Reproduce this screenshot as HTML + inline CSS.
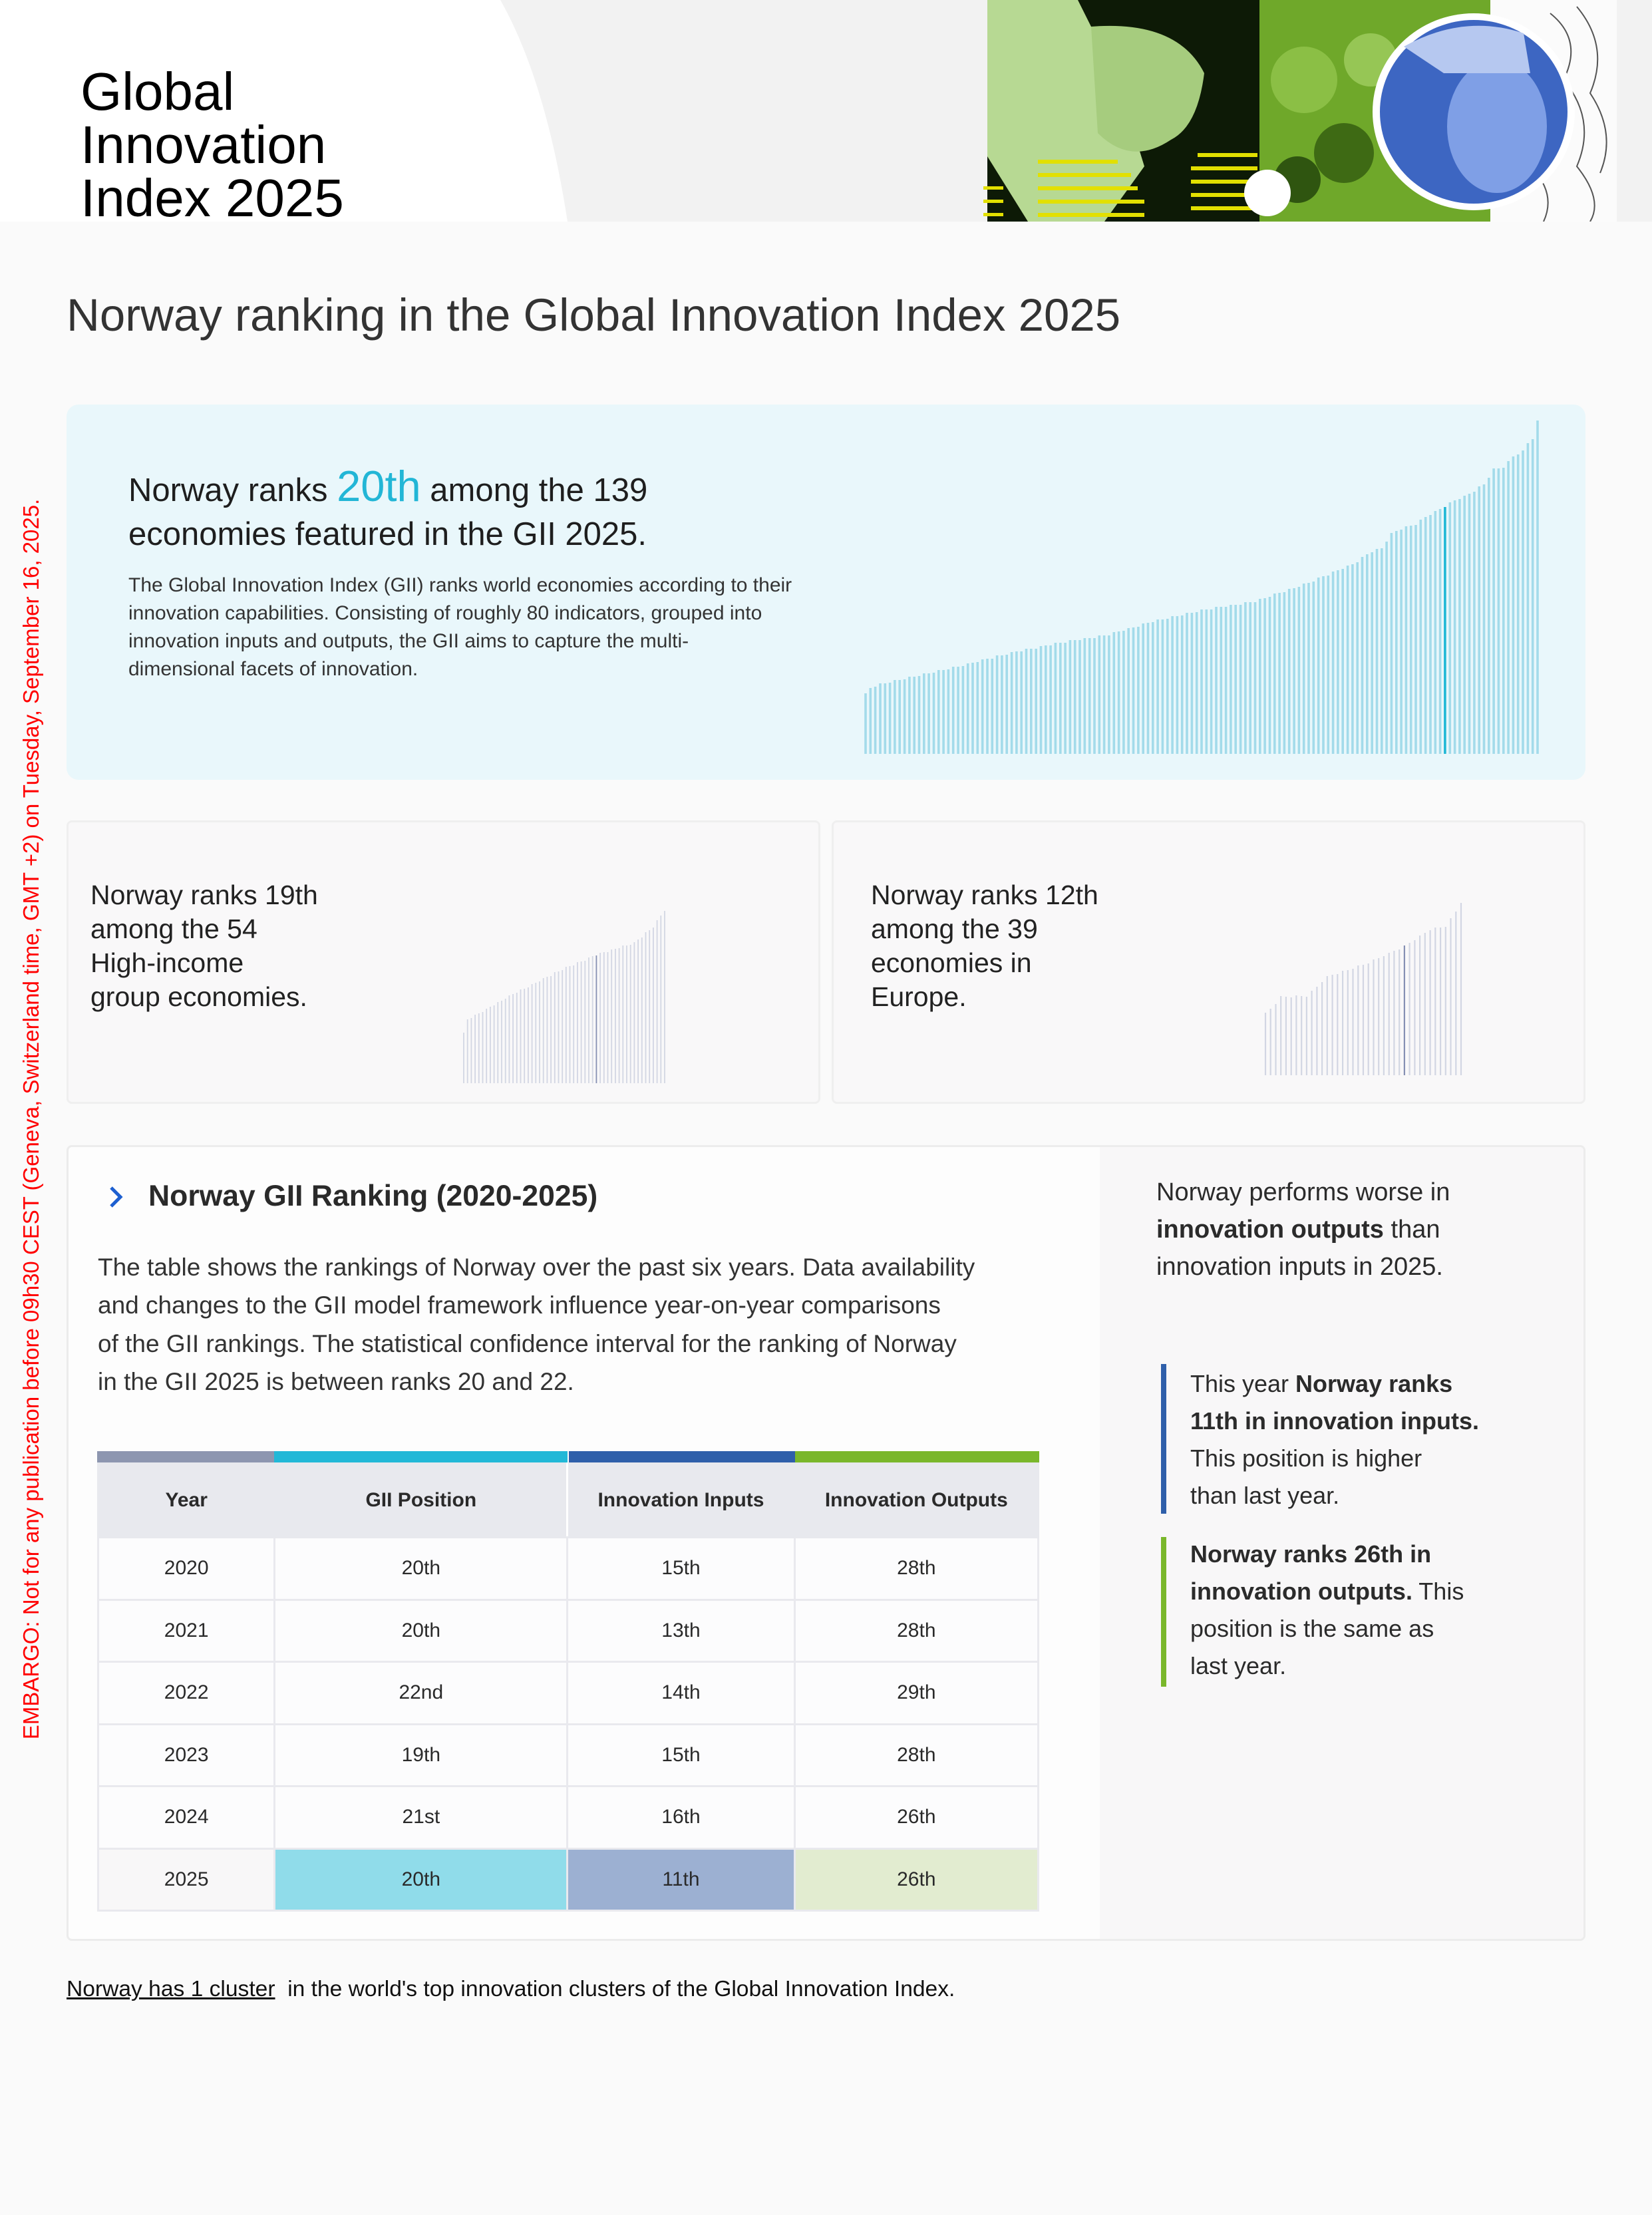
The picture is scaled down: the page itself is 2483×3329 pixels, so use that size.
<!DOCTYPE html>
<html><head><meta charset="utf-8">
<style>
*{margin:0;padding:0;box-sizing:border-box}
body{width:2483px;height:3329px;background:#fafafa;font-family:"Liberation Sans",Arial,sans-serif;color:#2b2b2b;position:relative;overflow:hidden}
.a{position:absolute}
.t{white-space:nowrap}
table{border-collapse:collapse}
td,th{text-align:center;font-size:30px;color:#2a2a2a;border:3px solid #e9e9ee}
</style></head><body>

<!-- header -->
<div class="a" style="left:0;top:0;width:2483px;height:333px;background:#fff"></div>
<svg class="a" style="left:0;top:0" width="2483" height="333">
<path d="M752 0 Q820 120 853 333 L2483 333 L2483 0 Z" fill="#f2f2f2"/>
<rect x="1484" y="0" width="409" height="333" fill="#0d1a06"/>
<path d="M1484 0 L1620 0 L1680 120 L1720 250 L1660 333 L1545 333 L1484 235 Z" fill="#b7d993"/>
<path d="M1640 40 Q1770 30 1810 110 Q1800 190 1760 210 Q1700 250 1650 200 Z" fill="#a6cc7e"/>
<g fill="#e2e000">
<rect x="1560" y="240" width="120" height="6"/><rect x="1560" y="260" width="140" height="6"/><rect x="1560" y="280" width="150" height="6"/><rect x="1560" y="300" width="160" height="6"/><rect x="1560" y="320" width="160" height="6"/>
<rect x="1800" y="230" width="90" height="6"/><rect x="1790" y="250" width="100" height="6"/><rect x="1790" y="270" width="100" height="6"/><rect x="1790" y="290" width="100" height="6"/><rect x="1790" y="310" width="100" height="6"/>
<rect x="1478" y="280" width="30" height="5"/><rect x="1478" y="300" width="30" height="5"/><rect x="1478" y="320" width="30" height="5"/>
</g>
<rect x="1893" y="0" width="347" height="333" fill="#6fa82a"/>
<circle cx="1960" cy="120" r="50" fill="#8bbf45"/><circle cx="2020" cy="230" r="45" fill="#3e6a14"/><circle cx="1950" cy="270" r="35" fill="#2f5510"/><circle cx="2060" cy="90" r="40" fill="#96c655"/>
<circle cx="1905" cy="290" r="35" fill="#fff"/>
<path d="M2240 0 L2430 0 L2430 333 L2240 333 Z" fill="#fbfbfb"/>
<g fill="none" stroke="#555" stroke-width="2"><path d="M2330 20 Q2380 60 2350 120 Q2400 180 2370 250 Q2410 300 2390 333"/><path d="M2370 10 Q2420 70 2390 140 Q2430 200 2405 260"/><path d="M2300 250 Q2340 290 2320 333"/></g>
<ellipse cx="2215" cy="168" rx="152" ry="148" fill="#fff"/>
<ellipse cx="2215" cy="168" rx="141" ry="138" fill="#3d66c2"/>
<ellipse cx="2250" cy="190" rx="75" ry="100" fill="#7f9fe6"/>
<path d="M2110 70 Q2200 20 2290 50 L2300 110 L2170 110 Z" fill="#b6c8f0"/>
</svg>
<div class="a" style="left:121px;top:98px;font-size:80px;line-height:80px;color:#000">Global<br>Innovation<br>Index 2025</div>

<!-- embargo -->
<div class="a t" style="left:47px;top:1682px;transform:translate(-50%,-50%) rotate(-90deg);font-size:33px;color:#f00">EMBARGO: Not for any publication before 09h30 CEST (Geneva, Switzerland time, GMT +2) on Tuesday, September 16, 2025.</div>

<div class="a t" style="left:100px;top:434px;font-size:69px;color:#333">Norway ranking in the Global Innovation Index 2025</div>

<!-- main card -->
<div class="a" style="left:100px;top:608px;width:2283px;height:564px;background:#e9f7fb;border-radius:18px"></div>
<div class="a" style="left:193px;top:698px;font-size:49px;line-height:66px;color:#1e1e1e">Norway ranks <span style="font-size:65px;color:#22b6d6">20th</span> among the 139<br>economies featured in the GII 2025.</div>
<div class="a" style="left:193px;top:859px;width:1020px;font-size:30px;line-height:42px;color:#333">The Global Innovation Index (GII) ranks world economies according to their innovation capabilities. Consisting of roughly 80 indicators, grouped into innovation inputs and outputs, the GII aims to capture the multi-<br>dimensional facets of innovation.</div>

<!-- small cards -->
<div class="a" style="left:100px;top:1233px;width:1133px;height:426px;background:#f9f8f9;border:3px solid #efefef;border-radius:8px"></div>
<div class="a" style="left:1250px;top:1233px;width:1133px;height:426px;background:#f9f8f9;border:3px solid #efefef;border-radius:8px"></div>
<div class="a" style="left:136px;top:1320px;font-size:41px;line-height:51px;color:#222">Norway ranks 19th<br>among the 54<br>High-income<br>group economies.</div>
<div class="a" style="left:1309px;top:1320px;font-size:41px;line-height:51px;color:#222">Norway ranks 12th<br>among the 39<br>economies in<br>Europe.</div>

<!-- table section -->
<div class="a" style="left:100px;top:1721px;width:2283px;height:1196px;background:#fdfdfd;border:3px solid #ececec;border-radius:8px;overflow:hidden">
 <div class="a" style="left:1550px;top:0;width:740px;height:1200px;background:#f8f7f8"></div>
</div>
<svg class="a" style="left:160px;top:1780px" width="30" height="40"><path d="M7 5 L21 19 L7 33" fill="none" stroke="#1d5fd0" stroke-width="5"/></svg>
<div class="a t" style="left:223px;top:1773px;font-size:44.5px;font-weight:bold;color:#2a2a2a">Norway GII Ranking (2020-2025)</div>
<div class="a" style="left:147px;top:1876px;width:1400px;font-size:37px;line-height:57.3px;color:#333">The table shows the rankings of Norway over the past six years. Data availability<br>and changes to the GII model framework influence year-on-year comparisons<br>of the GII rankings. The statistical confidence interval for the ranking of Norway<br>in the GII 2025 is between ranks 20 and 22.</div>

<div class="a" style="left:146px;top:2181px;width:266px;height:17px;background:#8d96b0"></div>
<div class="a" style="left:412px;top:2181px;width:441px;height:17px;background:#22b8d7"></div>
<div class="a" style="left:855px;top:2181px;width:340px;height:17px;background:#2f5faa"></div>
<div class="a" style="left:1195px;top:2181px;width:367px;height:17px;background:#7ab72b"></div>
<table class="a" style="left:146px;top:2198px;width:1416px">
<colgroup><col style="width:266px"><col style="width:441px"><col style="width:342px"><col style="width:367px"></colgroup>
<tr style="height:111px;background:#e8e9ee"><th style="font-weight:600;border-color:#e8e9ee;border-right-color:#e8e9ee">Year</th><th style="font-weight:600;border-color:#e8e9ee;border-right:3px solid #fff">GII Position</th><th style="font-weight:600;border-color:#e8e9ee">Innovation Inputs</th><th style="font-weight:600;border-color:#e8e9ee">Innovation Outputs</th></tr>
<tr style="height:93.5px;background:#fcfcfd"><td>2020</td><td>20th</td><td>15th</td><td>28th</td></tr>
<tr style="height:93.5px;background:#fcfcfd"><td>2021</td><td>20th</td><td>13th</td><td>28th</td></tr>
<tr style="height:93.5px;background:#fcfcfd"><td>2022</td><td>22nd</td><td>14th</td><td>29th</td></tr>
<tr style="height:93.5px;background:#fcfcfd"><td>2023</td><td>19th</td><td>15th</td><td>28th</td></tr>
<tr style="height:93.5px;background:#fcfcfd"><td>2024</td><td>21st</td><td>16th</td><td>26th</td></tr>
<tr style="height:93.5px"><td style="background:#f8f7f8">2025</td><td style="background:#90dcea">20th</td><td style="background:#9cb0d2">11th</td><td style="background:#e2ecd0">26th</td></tr>
</table>

<div class="a" style="left:1738px;top:1764px;font-size:38px;line-height:56px;color:#2b2b2b">Norway performs worse in<br><b style="font-weight:600">innovation outputs</b> than<br>innovation inputs in 2025.</div>
<div class="a" style="left:1745px;top:2050px;width:8px;height:225px;background:#2f5faa"></div>
<div class="a" style="left:1789px;top:2052px;font-size:36px;line-height:56px;color:#2b2b2b">This year <b style="font-weight:600">Norway ranks<br>11th in innovation inputs.</b><br>This position is higher<br>than last year.</div>
<div class="a" style="left:1745px;top:2310px;width:8px;height:225px;background:#7ab72b"></div>
<div class="a" style="left:1789px;top:2308px;font-size:36px;line-height:56px;color:#2b2b2b"><b style="font-weight:600">Norway ranks 26th in<br>innovation outputs.</b> This<br>position is the same as<br>last year.</div>

<div class="a t" style="left:100px;top:2971px;font-size:33.6px;color:#111"><span style="text-decoration:underline">Norway has 1 cluster</span>&nbsp; in the world's top innovation clusters of the Global Innovation Index.</div>

<svg id="c1" class="a" style="left:0;top:0" width="2483" height="1700"></svg>
<script>
function interp(pts,i){for(var k=0;k<pts.length-1;k++){var a=pts[k],b=pts[k+1];if(i>=a[0]&&i<=b[0]){return a[1]+(b[1]-a[1])*(i-a[0])/(b[0]-a[0]);}}return pts[pts.length-1][1];}
function bars(n,x0,x1,bottom,w,pts,hi,col,hcol,conv){
 var s='',sp=(x1-x0)/(n-1);
 for(var i=0;i<n;i++){var t=interp(pts,i);if(conv)t=conv(t);t=Math.round(t+((i*7)%3-1)*1.2);
  var x=x0+i*sp;s+='<rect x="'+(x-w/2).toFixed(1)+'" y="'+t+'" width="'+w+'" height="'+(bottom-t)+'" fill="'+(i==hi?hcol:col)+'"/>';}
 return s;}
var s='';
s+=bars(139,1301,2311,1133,3.6,[[0,1240],[1,1215],[2,1205],[10,1167],[20,1120],[30,1066],[40,1025],[50,990],[60,930],[70,885],[80,850],[90,780],[100,695],[104,640],[106,628],[108,565],[110,545],[113,527],[115,495],[117,475],[119,450],[121,425],[123,410],[125,385],[127,357],[129,295],[131,285],[133,240],[135,220],[136,185],[137,165],[138,92]],119,'#a3dbea','#1fb7d5',function(z){return 600+z/2.8;});
s+=bars(54,697,999,1628,1.8,[[0,1553],[1,1532],[5,1520],[12,1497],[20,1474],[26,1457],[35,1435],[45,1417],[50,1393],[53,1368]],35,'#d2d6e3','#8690b3');
s+=bars(39,1902,2196,1616,2.2,[[0,1523],[2,1508],[3,1498],[8,1497],[12,1468],[20,1447],[27,1422],[32,1397],[35,1392],[37,1370],[38,1356]],27,'#d2d6e3','#8690b3');
document.getElementById('c1').innerHTML=s;
</script>
</body></html>
